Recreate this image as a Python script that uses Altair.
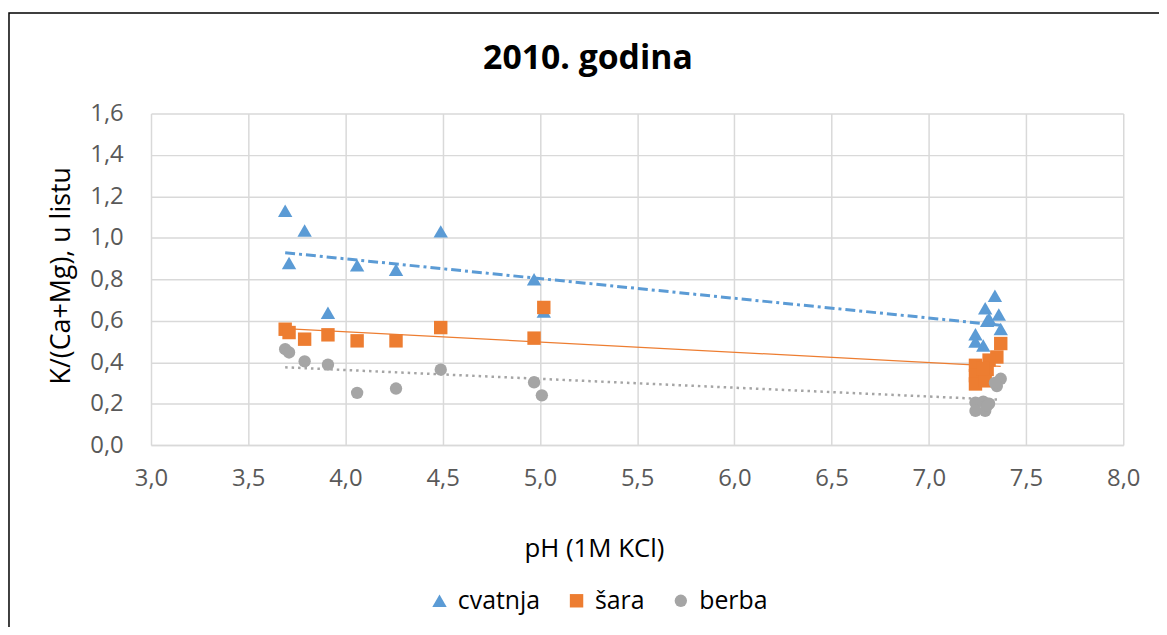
import altair as alt
import pandas as pd

TITLE = "2010. godina"
series_names = ["cvatnja", "šara", "berba"]
series_colors = ["#5B9BD5", "#ED7D31", "#A5A5A5"]
series_shapes = ["triangle-up", "square", "circle"]
series_sizes = [210, 155, 180]

ph_cvatnja = [3.69, 3.79, 3.71, 4.06, 4.26, 3.91, 4.49, 4.97, 5.02,
              7.34, 7.29, 7.36, 7.30, 7.31, 7.37, 7.24, 7.24, 7.28]
val_cvatnja = [1.13, 1.035, 0.878, 0.867, 0.846, 0.638, 1.031, 0.80, 0.645,
               0.72, 0.66, 0.63, 0.60, 0.61, 0.56, 0.535, 0.50, 0.48]

ph_sara = [3.69, 3.71, 3.79, 3.91, 4.06, 4.26, 4.49, 4.97, 5.02,
           7.37, 7.35, 7.31, 7.24, 7.30, 7.24, 7.24, 7.29, 7.28]
val_sara = [0.559, 0.543, 0.511, 0.532, 0.503, 0.503, 0.567, 0.516, 0.664,
            0.49, 0.425, 0.41, 0.385, 0.365, 0.335, 0.295, 0.31, 0.37]

ph_berba = [3.69, 3.71, 3.79, 3.91, 4.06, 4.26, 4.49, 4.97, 5.01,
            7.37, 7.35, 7.34, 7.24, 7.28, 7.31, 7.24, 7.29, 7.30]
val_berba = [0.463, 0.447, 0.404, 0.388, 0.252, 0.273, 0.364, 0.303, 0.240,
             0.32, 0.285, 0.30, 0.205, 0.21, 0.20, 0.165, 0.165, 0.19]

x_ticks = [3.0, 3.5, 4.0, 4.5, 5.0, 5.5, 6.0, 6.5, 7.0, 7.5, 8.0]
y_ticks = [0.0, 0.2, 0.4, 0.6, 0.8, 1.0, 1.2, 1.4, 1.6]

rows = []
for name, phs, vals in [("cvatnja", ph_cvatnja, val_cvatnja),
                        ("šara", ph_sara, val_sara),
                        ("berba", ph_berba, val_berba)]:
    for p, v in zip(phs, vals):
        rows.append({"series": name, "pH": p, "val": v})
df = pd.DataFrame(rows)

FONT = "Open Sans"
GRID = "#d9d9d9"
LBL = "#595959"

x_enc = alt.X("pH:Q",
              scale=alt.Scale(domain=[3, 8], nice=False, zero=False),
              axis=alt.Axis(values=x_ticks, title="pH (1M KCl)",
                            labelExpr="replace(format(datum.value, '.1f'), '.', ',')",
                            labelFlush=False, labelPadding=22, titleX=446, titleY=104,
                            titleBaseline="middle", titleAlign="center"))
y_enc = alt.Y("val:Q",
              scale=alt.Scale(domain=[0, 1.6], nice=False),
              axis=alt.Axis(values=y_ticks, title="K/(Ca+Mg), u listu",
                            labelExpr="replace(format(datum.value, '.1f'), '.', ',')",
                            labelFlush=False, labelPadding=28, domain=False,
                            titleX=-90, titleY=163, titleFontSize=27,
                            titleBaseline="middle", titleAlign="center"))

base = alt.Chart(df)

dash_styles = {"cvatnja": dict(strokeWidth=3, strokeDash=[10, 4, 3, 4]),
               "šara": dict(strokeWidth=1.3),
               "berba": dict(strokeWidth=2.5, strokeDash=[2.5, 4])}

trend_layers = []
for name, col in zip(series_names, series_colors):
    trend_layers.append(
        base.transform_filter(alt.datum.series == name)
        .transform_regression("pH", "val")
        .mark_line(color=col, **dash_styles[name])
        .encode(x=x_enc, y=y_enc)
    )

points = base.mark_point(filled=True, opacity=1, strokeWidth=0).encode(
    x=x_enc, y=y_enc,
    color=alt.Color("series:N",
                    scale=alt.Scale(domain=series_names, range=series_colors),
                    legend=alt.Legend(title=None, orient="none", direction="horizontal",
                                      legendX=278, legendY=478,
                                      labelFont=FONT, labelFontSize=25, labelColor="#000000",
                                      symbolSize=170, symbolStrokeWidth=0,
                                      columnPadding=24, labelOffset=6)),
    shape=alt.Shape("series:N",
                    scale=alt.Scale(domain=series_names, range=series_shapes)),
    size=alt.Size("series:N",
                  scale=alt.Scale(domain=series_names, range=series_sizes), legend=None),
)

frame = alt.Chart(alt.Data(values=[{}])).mark_rect(
    fill="transparent", stroke="#000000", strokeWidth=1.5
).encode(x=alt.value(-143), x2=alt.value(1040), y=alt.value(-101), y2=alt.value(560))

title_text = alt.Chart(alt.Data(values=[{"t": TITLE}])).mark_text(
    font=FONT, fontSize=34, fontWeight="bold", color="#000000",
    align="center", baseline="alphabetic"
).encode(text="t:N", x=alt.value(440), y=alt.value(-45))

chart = alt.layer(frame, *trend_layers, points, title_text).properties(
    width=979, height=334,
    background="white",
    autosize=alt.AutoSizeParams(type="none"),
    padding={"left": 144, "top": 104, "right": 36, "bottom": 181},
).configure_axis(
    gridColor=GRID, gridWidth=1.5, domainColor=GRID, domainWidth=1.5,
    ticks=False, labelFont=FONT, labelFontSize=24, labelColor=LBL,
    titleFont=FONT, titleFontSize=26, titleFontWeight="normal", titleColor="#000000",
).configure_view(stroke="transparent")

chart.save("out.html", embed_options={"renderer": "svg", "actions": False})
